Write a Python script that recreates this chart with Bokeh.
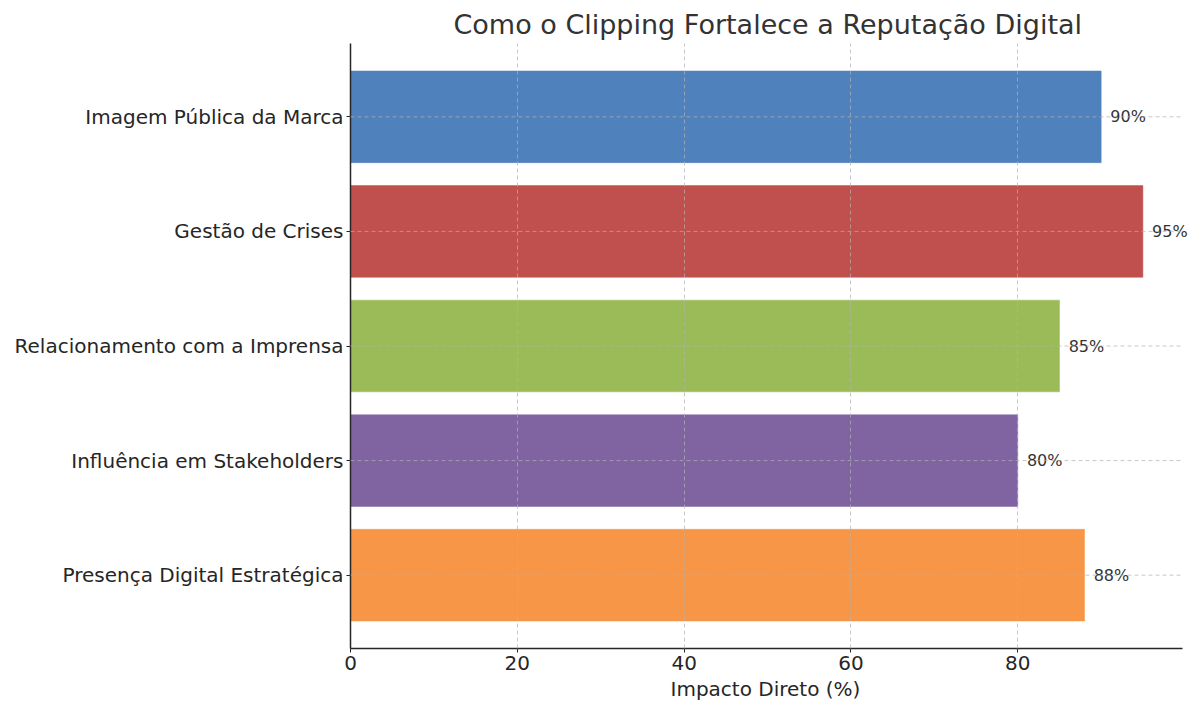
from bokeh.plotting import figure
from bokeh.models import ColumnDataSource, FactorRange, Range1d, FixedTicker, LabelSet, Title
from bokeh.core.properties import value
from bokeh.embed import file_html
from bokeh.resources import INLINE

categories = ["Imagem Pública da Marca", "Gestão de Crises", "Relacionamento com a Imprensa",
              "Influência em Stakeholders", "Presença Digital Estratégica"]
values = [90, 95, 85, 80, 88]
colors = ["#4F81BD", "#C0504D", "#9BBB59", "#8064A2", "#F79646"]
labels = [f"{v}%" for v in values]
x_ticks = [0, 20, 40, 60, 80]
x_max = 99.75

FONT = "DejaVu Sans"

src = ColumnDataSource(dict(cat=categories, val=values, color=colors,
                            lab=labels, lx=[v + 1.1 for v in values],
                            x0=[0] * len(values), x1=[x_max] * len(values)))

yr = FactorRange(factors=list(reversed(categories)), range_padding=0.14,
                 range_padding_units="absolute")

# frame extends past the axis end so that the value labels are not clipped
p = figure(width=1200, height=713, y_range=yr, x_range=Range1d(0, x_max * 850 / 832),
           output_backend="svg", toolbar_location=None,
           min_border_left=350, min_border_right=0, min_border_top=43, min_border_bottom=65)

# horizontal grid lines (ending at the axis end)
p.segment(x0="x0", x1="x1", y0="cat", y1="cat", source=src, line_color="#b0b0b0",
          line_alpha=0.7, line_dash="4 3", line_width=1, level="overlay")

p.hbar(y="cat", right="val", left=0, height=0.8, fill_color="color", line_color="color",
       fill_alpha=1.0, line_alpha=0.5, source=src)

p.add_layout(LabelSet(x="lx", y="cat", text="lab", source=src, text_font_size="16px",
                      text_font=value(FONT), text_color="#333333", text_baseline="middle",
                      text_align="left"))

p.title.text = "Como o Clipping Fortalece a Reputação Digital"
p.title.align = "left"
p.title.text_font = FONT
p.title.text_font_size = "27px"
p.title.text_font_style = "normal"
p.title.text_color = "#333333"
p.title.offset = 103
p.title.standoff = 8

p.outline_line_color = None
p.background_fill_color = "white"
p.border_fill_color = "white"

p.xaxis.ticker = FixedTicker(ticks=x_ticks)
p.xaxis.bounds = (0, x_max)
for ax in (p.xaxis, p.yaxis):
    ax.major_label_text_font = FONT
    ax.major_label_text_color = "#262626"
    ax.axis_line_color = "#262626"
    ax.axis_line_width = 1.5
    ax.major_tick_line_color = "#262626"
    ax.major_tick_out = 4
    ax.major_tick_in = 0
    ax.minor_tick_line_color = None
p.xaxis.major_label_text_font_size = "20px"
p.yaxis.major_label_text_font_size = "20px"
p.xaxis.major_label_standoff = 3
p.yaxis.major_label_standoff = 3

# x-axis title, centred under the axis line (not under the wider frame)
p.add_layout(Title(text="Impacto Direto (%)", align="left", offset=320, standoff=5,
                   text_font=FONT, text_font_size="20px", text_font_style="normal",
                   text_color="#262626"), "below")

p.xgrid.ticker = FixedTicker(ticks=[20, 40, 60, 80])
p.xgrid.grid_line_color = "#b0b0b0"
p.xgrid.grid_line_alpha = 0.7
p.xgrid.grid_line_dash = "4 3"
p.xgrid.grid_line_width = 1
p.xgrid.level = "overlay"
p.ygrid.grid_line_color = None

open("out.html", "w").write(file_html(p, INLINE))
